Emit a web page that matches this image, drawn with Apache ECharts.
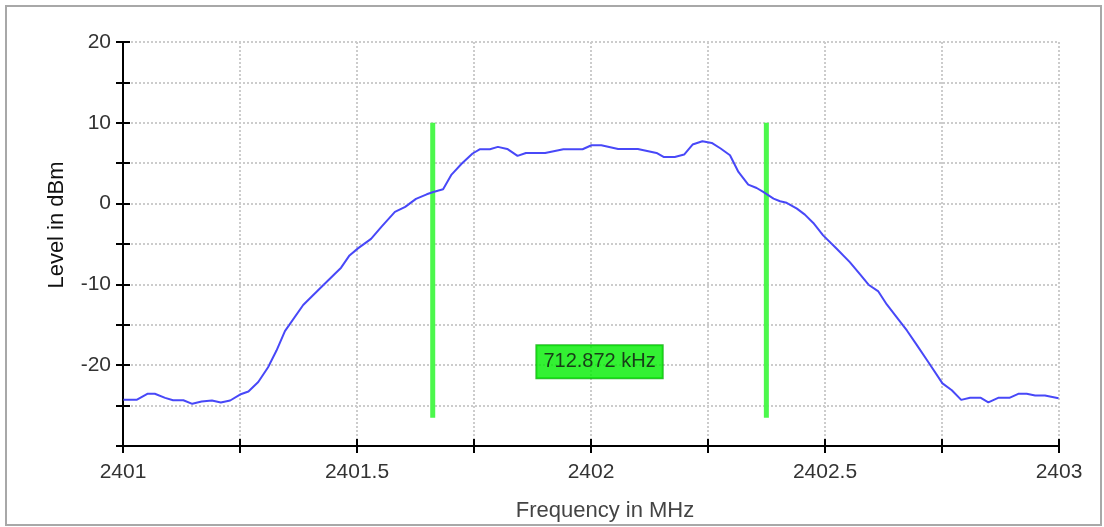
<!DOCTYPE html>
<html><head><meta charset="utf-8">
<script src="https://cdn.jsdelivr.net/npm/echarts@6/dist/echarts.min.js"></script>
<style>html,body{margin:0;padding:0;background:#fff}#c{width:1104px;height:527px}</style>
</head><body><div id="c"></div>
<script>
// ---- data ----
const freqMHz = [2401.001,2401.029,2401.052,2401.068,2401.090,2401.107,2401.129,2401.148,2401.168,2401.190,
  2401.209,2401.229,2401.250,2401.268,2401.289,2401.310,2401.328,2401.346,2401.385,2401.425,
  2401.466,2401.484,2401.502,2401.530,2401.553,2401.581,2401.603,2401.626,2401.649,2401.663,
  2401.684,2401.702,2401.724,2401.747,2401.763,2401.784,2401.801,2401.821,2401.843,2401.861,
  2401.902,2401.941,2401.982,2402.001,2402.022,2402.058,2402.100,2402.140,2402.155,2402.179,
  2402.199,2402.217,2402.238,2402.258,2402.277,2402.297,2402.315,2402.336,2402.354,2402.368,
  2402.390,2402.404,2402.418,2402.440,2402.457,2402.475,2402.496,2402.525,2402.553,2402.575,
  2402.593,2402.614,2402.632,2402.653,2402.675,2402.696,2402.721,2402.751,2402.771,2402.791,
  2402.810,2402.833,2402.849,2402.870,2402.894,2402.913,2402.931,2402.949,2402.970,2402.999];
const levelDbm = [-24.28,-24.28,-23.54,-23.54,-24.04,-24.34,-24.34,-24.78,-24.50,-24.37,
  -24.62,-24.37,-23.63,-23.26,-22.08,-20.25,-18.19,-15.79,-12.55,-10.25,
  -7.93,-6.41,-5.54,-4.36,-2.81,-1.02,-0.40,0.59,1.15,1.44,
  1.77,3.59,4.96,6.20,6.73,6.73,7.02,6.77,5.90,6.27,
  6.27,6.73,6.73,7.22,7.22,6.77,6.77,6.27,5.77,5.77,
  6.07,7.31,7.72,7.51,6.82,5.99,3.92,2.35,1.93,1.44,
  0.62,0.29,0.10,-0.62,-1.36,-2.40,-3.93,-5.58,-7.24,-8.76,
  -10.04,-10.87,-12.48,-14.05,-15.70,-17.48,-19.63,-22.25,-23.10,-24.29,
  -24.04,-24.04,-24.59,-24.04,-24.04,-23.54,-23.54,-23.75,-23.75,-24.08];
const xTickLabels = ['2401','2401.5','2402','2402.5','2403'];
const yTickLabels = ['20','10','0','-10','-20'];
const markerFreqs = [2401.6618, 2402.3747];
const markerLevels = [10, -26.5];
const bandwidthText = '712.872 kHz';
const bandwidthLabelLevel = -19.58;
const xTitle = 'Frequency in MHz';
const yTitle = 'Level in dBm';

// ---- chart ----
const FONT = "'Liberation Sans', Arial, sans-serif";
const chart = echarts.init(document.getElementById('c'), null, {renderer: 'canvas'});
const axisLineStyle = {color: '#000', width: 2};
const xBase = {type: 'value', min: 2401, max: 2403, interval: 0.25, position: 'bottom'};
const yBase = {type: 'value', min: -30, max: 20, interval: 5, position: 'left'};
const midFreq = (markerFreqs[0] + markerFreqs[1]) / 2;

const markerSeries = markerFreqs.map(f => ({
  type: 'line', silent: true, showSymbol: false, z: 2,
  data: markerLevels.map(v => [f, v]),
  lineStyle: {color: '#4cf84c', width: 5, cap: 'butt'}, itemStyle: {color: '#4cf84c'}
}));

chart.setOption({
  animation: false,
  backgroundColor: '#fff',
  textStyle: {fontFamily: FONT},
  grid: {left: 123, right: 45, top: 42, bottom: 81, containLabel: false},
  graphic: [{type: 'rect', shape: {x: 6, y: 6, width: 1095, height: 519},
    style: {fill: null, stroke: '#a8a8a8', lineWidth: 2}, silent: true, z: -1}],
  xAxis: [
    Object.assign({}, xBase, {
      name: xTitle, nameLocation: 'middle', nameGap: 54,
      nameTextStyle: {fontSize: 22, color: '#444', fontFamily: FONT, padding: [0, 0, 0, 28]},
      axisLine: {show: true, onZero: false, lineStyle: axisLineStyle},
      axisTick: {show: true, length: 7, lineStyle: {color: '#000', width: 2}},
      axisLabel: {fontSize: 21, color: '#333', margin: 16, fontFamily: FONT,
        formatter: v => { const s = String(+v.toFixed(2)); return xTickLabels.includes(s) ? s : ''; }},
      splitLine: {show: true, lineStyle: {color: '#cccccc', width: 2, type: [2, 2]}}
    }),
    Object.assign({}, xBase, {
      axisLine: {show: false, onZero: false}, axisLabel: {show: false}, splitLine: {show: false},
      axisTick: {show: true, inside: true, length: 7, lineStyle: {color: '#000', width: 2}}
    })
  ],
  yAxis: [
    Object.assign({}, yBase, {
      name: yTitle, nameLocation: 'middle', nameGap: 55, nameRotate: 90,
      nameTextStyle: {fontSize: 22, color: '#111', fontFamily: FONT, padding: [0, 0, 0, 38]},
      axisLine: {show: true, onZero: false, lineStyle: axisLineStyle},
      axisTick: {show: true, length: 7, lineStyle: {color: '#000', width: 2}},
      axisLabel: {fontSize: 21, color: '#333', margin: 12, fontFamily: FONT,
        formatter: v => { const s = String(v); return yTickLabels.includes(s) ? s : ''; }},
      splitLine: {show: true, lineStyle: {color: '#cccccc', width: 2, type: [2, 2]}}
    }),
    Object.assign({}, yBase, {
      axisLine: {show: false, onZero: false}, axisLabel: {show: false}, splitLine: {show: false},
      axisTick: {show: true, inside: true, length: 7, lineStyle: {color: '#000', width: 2}}
    })
  ],
  series: [
    ...markerSeries,
    {
      type: 'line', showSymbol: false, z: 3, silent: true,
      data: freqMHz.map((f, i) => [f, levelDbm[i]]),
      lineStyle: {color: '#4848f8', width: 2}, itemStyle: {color: '#4848f8'}
    },
    {
      type: 'scatter', symbolSize: 1, z: 5, silent: true,
      itemStyle: {color: 'rgba(0,0,0,0)'},
      data: [[midFreq, bandwidthLabelLevel]],
      label: {show: true, position: 'inside', formatter: bandwidthText,
        fontSize: 20, color: '#111', fontFamily: FONT,
        backgroundColor: '#00ee00', borderColor: '#00a800', borderWidth: 1,
        padding: [6, 7, 5, 7], lineHeight: 22}
    }
  ]
});
</script>
</body></html>
